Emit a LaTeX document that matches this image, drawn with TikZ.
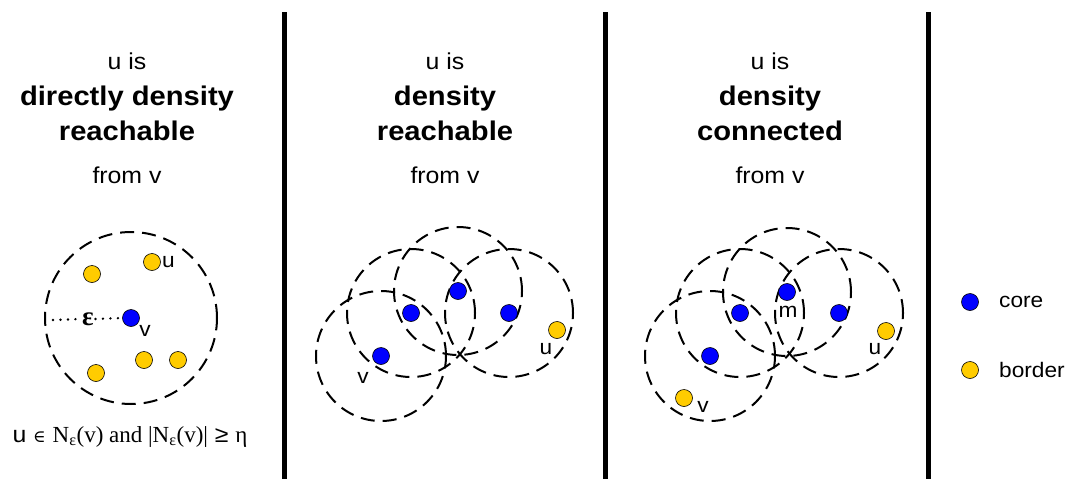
\documentclass[tikz,border=0pt]{standalone}
\usepackage{fontspec}
\setmainfont{Liberation Sans}[FakeStretch=1.08]
\newfontfamily\serifrm{Liberation Serif}
\newfontfamily\serifbf{Liberation Serif Bold}
\newfontfamily\symrm{DejaVu Serif}
\begin{document}
\begin{tikzpicture}[x=1pt,y=-1pt,
  corept/.style={circle, draw=black, line width=0.6pt, fill=blue, minimum size=17pt, inner sep=0pt},
  borderpt/.style={circle, draw=black, line width=0.6pt, fill=gold, minimum size=17pt, inner sep=0pt},
  epsball/.style={draw=black, line width=2pt, dash pattern=on 14pt off 8pt},
  divider/.style={draw=black, line width=5pt},
  small/.style={font=\fontsize{23}{26}\selectfont, inner sep=0pt, anchor=base},
  bigb/.style={font=\fontsize{27}{30}\selectfont\bfseries, inner sep=0pt, anchor=base},
  lbl/.style={font=\fontsize{21}{24}\selectfont, inner sep=0pt},
  dotline/.style={line width=2.6pt, line cap=round, dash pattern=on 0pt off 7.5pt},
]
\definecolor{gold}{RGB}{255,204,0}
\path[use as bounding box] (0,0) rectangle (1073,479);

% panel dividers
\coordinate (d1t) at (284.5,12); \coordinate (d1b) at (284.5,479);
\coordinate (d2t) at (605.5,12); \coordinate (d2b) at (605.5,479);
\coordinate (d3t) at (928,12); \coordinate (d3b) at (928,479);
\draw[divider] (d1t) -- (d1b);
\draw[divider] (d2t) -- (d2b);
\draw[divider] (d3t) -- (d3b);

% ---- panel 1: directly density reachable
\node[small] (t1a) at (127,69) {u is};
\node[bigb]  (t1b) at (127,105) {directly density};
\node[bigb]  (t1c) at (127,140) {reachable};
\node[small] (t1d) at (127,183) {from v};

\draw[epsball] (131,318) circle[radius=86pt];
\node[corept] (p1v) at (131,318) {};
\node[borderpt] (p1u) at (152,262) {};
\node[borderpt] (p1a) at (92,274) {};
\node[borderpt] (p1b) at (144,360) {};
\node[borderpt] (p1c) at (178,360) {};
\node[borderpt] (p1d) at (96,373) {};
\node[lbl, anchor=west] (p1ul) at (162,262) {u};
\node[lbl] (p1vl) at (145,331) {v};
\node[font=\serifbf\fontsize{27}{28}\selectfont, inner sep=1.5pt] (eps) at (88,319) {ε};
\coordinate (p1w) at (53,320);
\draw[dotline] (p1w) -- (eps.west);
\draw[dotline] (eps.east) -- (p1v.west);
\node[font=\fontsize{23}{25}\selectfont, inner sep=0pt, anchor=base] (form) at (130,442)
  {u {\symrm\fontsize{17}{18}\selectfont ∈} {\serifrm N\textsubscript{ε}(v) and |N\textsubscript{ε}(v)|} ≥ {\serifrm η}};

% ---- panel 2: density reachable
\node[small] (t2a) at (445,69) {u is};
\node[bigb]  (t2b) at (445,105) {density};
\node[bigb]  (t2c) at (445,140) {reachable};
\node[small] (t2d) at (445,183) {from v};

\draw[epsball] (381,356) circle[radius=65pt];
\draw[epsball] (411,313) circle[radius=64pt];
\draw[epsball] (458,291) circle[radius=64pt];
\draw[epsball] (509,313) circle[radius=64pt];
\node[corept] (p2a) at (381,356) {};
\node[corept] (p2b) at (411,313) {};
\node[corept] (p2c) at (458,291) {};
\node[corept] (p2d) at (509,313) {};
\node[borderpt] (p2u) at (557,330) {};
\node[lbl] (p2ul) at (546,349) {u};
\node[lbl] (p2vl) at (363,378) {v};

% ---- panel 3: density connected
\node[small] (t3a) at (770,69) {u is};
\node[bigb]  (t3b) at (770,105) {density};
\node[bigb]  (t3c) at (770,140) {connected};
\node[small] (t3d) at (770,183) {from v};

\draw[epsball] (710,356) circle[radius=65pt];
\draw[epsball] (740,313) circle[radius=64pt];
\draw[epsball] (787,292) circle[radius=64pt];
\draw[epsball] (839,313) circle[radius=64pt];
\node[corept] (p3a) at (710,356) {};
\node[corept] (p3b) at (740,313) {};
\node[corept] (p3m) at (787,292) {};
\node[corept] (p3d) at (839,313) {};
\node[borderpt] (p3u) at (886,331) {};
\node[borderpt] (p3v) at (684,398) {};
\node[lbl] (p3ml) at (788,312) {m};
\node[lbl] (p3ul) at (875,349) {u};
\node[lbl] (p3vl) at (703,407) {v};

% ---- legend
\node[corept] (lc) at (970,302) {};
\node[lbl, anchor=west] (lct) at (999,302) {core};
\node[borderpt] (lb) at (970,370) {};
\node[lbl, anchor=west] (lbt) at (999,370) {border};
\end{tikzpicture}
\end{document}
